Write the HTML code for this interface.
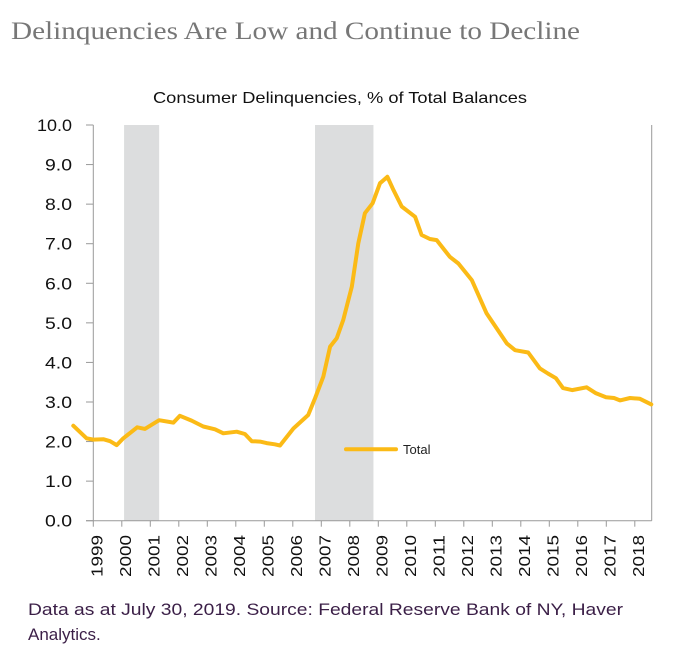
<!DOCTYPE html>
<html><head><meta charset="utf-8"><style>
html,body{margin:0;padding:0;background:#fff;}
svg{display:block;font-family:"Liberation Sans",sans-serif;}
</style></head><body>
<svg id="chart" width="673" height="658" viewBox="0 0 673 658" xmlns="http://www.w3.org/2000/svg">
<text x="11" y="39" font-family="Liberation Serif, serif" font-size="25" fill="#777" textLength="569" lengthAdjust="spacingAndGlyphs">Delinquencies Are Low and Continue to Decline</text>
<text x="153" y="103" font-size="16" fill="#111" textLength="374" lengthAdjust="spacingAndGlyphs">Consumer Delinquencies, % of Total Balances</text>
<g id="bands"></g>
<g id="axes"></g>
<g id="series"></g>
<g>
<line x1="346" y1="449.3" x2="396" y2="449.3" stroke="#FBBA16" stroke-width="4" stroke-linecap="round"/>
<text x="403" y="454" font-size="13" fill="#222">Total</text>
</g>
<text x="28" y="615" font-size="17" fill="#3b1f47" textLength="595" lengthAdjust="spacingAndGlyphs">Data as at July 30, 2019. Source: Federal Reserve Bank of NY, Haver</text>
<text x="28" y="640" font-size="17" fill="#3b1f47">Analytics.</text>
</svg>
<script>
const dates = [1998.30,1998.77,1999.0,1999.35,1999.59,1999.82,2000.05,2000.54,2000.81,2001.31,2001.81,2002.04,2002.45,2002.86,2003.27,2003.56,2004.03,2004.32,2004.56,2004.85,2005.08,2005.37,2005.55,2006.02,2006.54,2006.78,2007.07,2007.31,2007.54,2007.77,2008.07,2008.30,2008.53,2008.80,2009.06,2009.32,2009.53,2009.82,2010.29,2010.52,2010.81,2011.05,2011.51,2011.81,2012.28,2012.80,2013.51,2013.80,2014.26,2014.67,2014.95,2015.23,2015.48,2015.80,2016.31,2016.64,2016.99,2017.27,2017.48,2017.83,2018.18,2018.58];
const totalValues = [2.40,2.08,2.05,2.06,2.01,1.91,2.08,2.36,2.32,2.54,2.48,2.65,2.53,2.38,2.31,2.21,2.25,2.19,2.01,2.00,1.96,1.93,1.90,2.33,2.67,3.09,3.64,4.40,4.61,5.07,5.91,7.01,7.77,8.02,8.53,8.69,8.36,7.94,7.68,7.22,7.12,7.09,6.67,6.50,6.08,5.24,4.48,4.31,4.25,3.85,3.72,3.60,3.35,3.30,3.37,3.22,3.12,3.10,3.04,3.10,3.08,2.94];
const yTicks = [0,1,2,3,4,5,6,7,8,9,10];
const yTickLabels = ["0.0","1.0","2.0","3.0","4.0","5.0","6.0","7.0","8.0","9.0","10.0"];
const years = [1999,2000,2001,2002,2003,2004,2005,2006,2007,2008,2009,2010,2011,2012,2013,2014,2015,2016,2017,2018];
const recessionStarts = [2000.08,2006.78];
const recessionEnds = [2001.31,2008.83];

const NS="http://www.w3.org/2000/svg";
const X0=93.3, PX_PER_YEAR=28.5, Y0=520.7, PX_PER_UNIT=39.57, RIGHT=651.7;
function x(t){return X0+(t-1999)*PX_PER_YEAR;}
function y(v){return Y0-v*PX_PER_UNIT;}
function mk(tag,attrs,parent){const e=document.createElementNS(NS,tag);for(const k in attrs)e.setAttribute(k,attrs[k]);parent.appendChild(e);return e;}

const bands=document.getElementById('bands');
recessionStarts.forEach((s,i)=>{
  const r=mk('rect',{x:x(s),y:y(10),width:x(recessionEnds[i])-x(s),height:Y0-y(10),fill:'#DCDDDE'},bands);
  
  
});

const axes=document.getElementById('axes');
const ya=mk('line',{x1:X0,y1:y(10),x2:X0,y2:Y0,stroke:'#999','stroke-width':1},axes);


const ra=mk('line',{x1:RIGHT,y1:y(10),x2:RIGHT,y2:Y0,stroke:'#999','stroke-width':1},axes);


const xa=mk('line',{x1:86,y1:Y0,x2:RIGHT,y2:Y0,stroke:'#999','stroke-width':1},axes);


yTicks.forEach((v,i)=>{
  const tk=mk('line',{x1:86,y1:y(v),x2:X0,y2:y(v),stroke:'#999'},axes);
  
  
  const lbl=yTickLabels[i];
  const t=mk('text',{x:72,y:y(v)+6,'text-anchor':'end','font-size':17,fill:'#111',textLength:lbl.length>3?35:27,lengthAdjust:'spacingAndGlyphs'},axes);
  t.textContent=lbl;
  
  
});
years.forEach(yr=>{
  const tk=mk('line',{x1:x(yr),y1:Y0,x2:x(yr),y2:Y0+6,stroke:'#999'},axes);
  
  
  const tx=x(yr)+9;
  const t=mk('text',{x:tx,y:535,'text-anchor':'end','font-size':16,fill:'#111',textLength:42,lengthAdjust:'spacingAndGlyphs',transform:`rotate(-90 ${tx} 535)`},axes);
  t.textContent=String(yr);
  
  
});

const series=document.getElementById('series');
const d=dates.map((t,i)=>(i?'L':'M')+x(t).toFixed(1)+' '+y(totalValues[i]).toFixed(1)).join(' ');
const p=mk('path',{d:d,fill:'none',stroke:'#FBBA16','stroke-width':4,'stroke-linejoin':'round','stroke-linecap':'round'},series);


</script>
</body></html>
